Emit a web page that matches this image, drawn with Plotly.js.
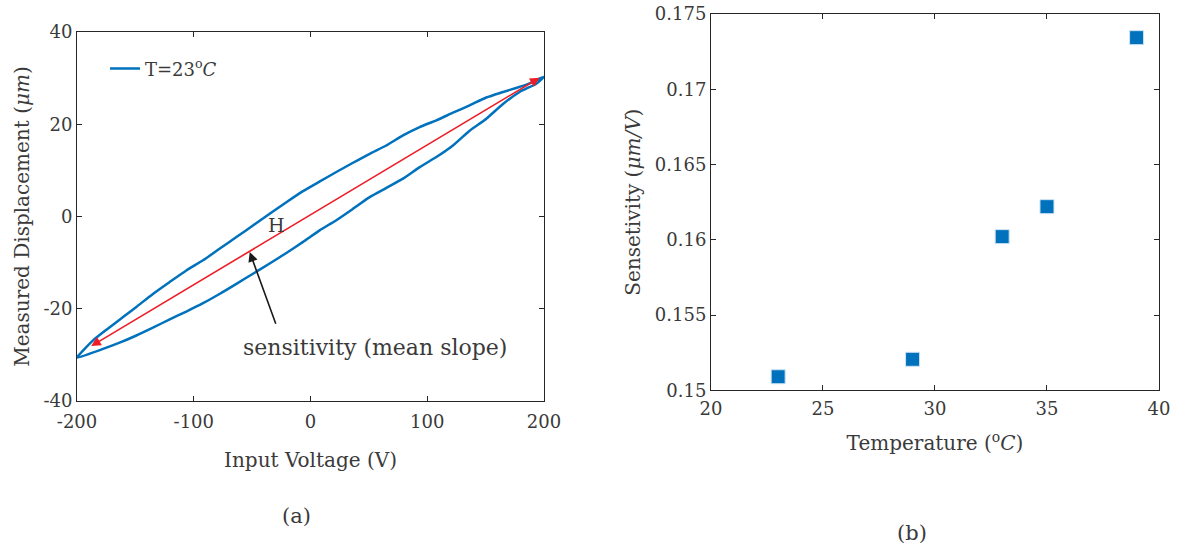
<!DOCTYPE html>
<html>
<head>
<meta charset="utf-8">
<script src="https://cdn.plot.ly/plotly-3.0.1.min.js"></script>
<style>html,body{margin:0;padding:0;background:#fff;}#chart{width:1180px;height:554px;}</style>
</head>
<body>
<div id="chart"></div>
<script>
// ---- Panel (a): hysteresis loop at T = 23 C ----
// upper branch (voltage decreasing 200 -> -200)
const upperVoltage = [200, 196, 185, 165, 150.6, 136.3, 122, 107.8, 93.5, 79.2, 64.9, 50.7, 36, 22.1, 8, -6.4, -20.7, -35, -49, -63.5, -78, -92.1, -106.4, -120.6, -135, -149.2, -160, -172, -186.3, -200];
const upperDisp    = [30.3, 29.9, 28.6, 27.0, 25.8, 24.1, 22.5, 20.85, 19.4, 17.6, 15.4, 13.6, 11.6, 9.65, 7.6, 5.5, 3.1, 0.6, -1.9, -4.45, -7.0, -9.5, -11.7, -14.2, -16.8, -19.6, -21.7, -24.0, -26.85, -30.5];
// lower branch (voltage increasing -200 -> 200)
const lowerVoltage = [-200, -177.7, -163, -149.2, -135, -120.6, -106.4, -92.1, -78, -63.5, -49.3, -35, -20.7, -6.4, 7.8, 22.1, 36, 50.7, 65, 79.2, 93.5, 107.8, 122, 136.3, 150.6, 164.9, 179.1, 193.4, 200];
const lowerDisp    = [-30.6, -28.7, -27.3, -25.8, -24.1, -22.3, -20.6, -18.8, -16.8, -14.6, -12.4, -10.2, -7.9, -5.5, -3.0, -0.8, 1.6, 4.2, 6.2, 8.2, 10.7, 12.9, 15.4, 18.6, 21.2, 24.4, 27.0, 28.8, 30.3];
const loopVoltage = upperVoltage.concat(lowerVoltage);
const loopDisp = upperDisp.concat(lowerDisp);

// mean slope arrow end points (data units)
const slopeStart = [-189.2, -28.3];
const slopeEnd = [196.3, 30.1];
const pointerHead = [-52.1, -7.7];
const pointerTail = [-29.3, -23.6];

// ---- Panel (b): sensitivity vs temperature ----
const temperature = [23, 29, 33, 35, 39];
const sensitivity = [0.1509, 0.15206, 0.16021, 0.1622, 0.17343];

const xTicksA = [-200, -100, 0, 100, 200];
const xTickTextA = ['-200', '-100', '0', '100', '200'];
const yTicksA = [-40, -20, 0, 20, 40];
const yTickTextA = ['-40', '-20', '0', '20', '40'];
const xTicksB = [20, 25, 30, 35, 40];
const xTickTextB = ['20', '25', '30', '35', '40'];
const yTicksB = [0.15, 0.155, 0.16, 0.165, 0.17, 0.175];
const yTickTextB = ['0.15', '0.155', '0.16', '0.165', '0.17', '0.175'];

const FONT = 'DejaVu Serif, serif';
const TXT = '#3a3a3a';

const axisCommon = {
  showline: true, linecolor: '#262626', linewidth: 1, mirror: 'ticks',
  ticks: 'inside', ticklen: 5, tickwidth: 1, tickcolor: '#262626',
  showgrid: false, zeroline: false,
  tickfont: {family: FONT, size: 18, color: TXT},
  automargin: false
};

const traces = [
  {x: loopVoltage, y: loopDisp, type: 'scatter', mode: 'lines', name: 'T=23<sup>o</sup><i>C</i>',
   line: {color: '#0072BD', width: 2.5, shape: 'spline', smoothing: 0.6}, xaxis: 'x', yaxis: 'y', showlegend: true},
  {x: temperature, y: sensitivity, type: 'scatter', mode: 'markers', name: 'sensitivity',
   marker: {symbol: 'square', size: 14, color: '#0072BD', line: {color: '#cfe3f3', width: 1}},
   xaxis: 'x2', yaxis: 'y2', showlegend: false}
];

const layout = {
  width: 1180, height: 554,
  margin: {l: 0, r: 0, t: 0, b: 0},
  paper_bgcolor: '#fff', plot_bgcolor: '#fff',
  font: {family: FONT, color: TXT},
  showlegend: true,
  legend: {x: 0.089, y: 0.909, xanchor: 'left', yanchor: 'top', bgcolor: 'rgba(0,0,0,0)',
           font: {family: FONT, size: 18, color: TXT}, itemwidth: 30, tracegroupgap: 0},
  xaxis: Object.assign({}, axisCommon, {domain: [0.0653, 0.4610], range: [-200, 200], tickvals: xTicksA, ticktext: xTickTextA,
    ticklabelstandoff: 4,
    title: {text: 'Input Voltage (V)', font: {family: FONT, size: 20, color: TXT}, standoff: 22}}),
  yaxis: Object.assign({}, axisCommon, {domain: [0.2762, 0.9422], range: [-40, 40], tickvals: yTicksA, ticktext: yTickTextA,
    title: {text: 'Measured Displacement (<i>μm</i>)', font: {family: FONT, size: 20, color: TXT}, standoff: 8}}),
  xaxis2: Object.assign({}, axisCommon, {domain: [0.6025, 0.9822], range: [20, 40], tickvals: xTicksB, ticktext: xTickTextB, anchor: 'y2',
    ticklabelstandoff: 2,
    title: {text: 'Temperature (<sup>o</sup><i>C</i>)', font: {family: FONT, size: 20, color: TXT}, standoff: 18}}),
  yaxis2: Object.assign({}, axisCommon, {domain: [0.2955, 0.9747], range: [0.15, 0.175], tickvals: yTicksB, ticktext: yTickTextB, anchor: 'x2',
    title: {text: 'Sensetivity (<i>μm/V</i>)', font: {family: FONT, size: 20, color: TXT}, standoff: 8}}),
  annotations: [
    {xref: 'x', yref: 'y', axref: 'x', ayref: 'y', x: slopeEnd[0], y: slopeEnd[1], ax: slopeStart[0], ay: slopeStart[1],
     text: '', showarrow: true, arrowside: 'end+start', arrowhead: 2, startarrowhead: 2, arrowsize: 1.2, startarrowsize: 1.2,
     arrowwidth: 1.6, arrowcolor: '#ee1c25'},
    {xref: 'x', yref: 'y', axref: 'x', ayref: 'y', x: pointerHead[0], y: pointerHead[1], ax: pointerTail[0], ay: pointerTail[1],
     text: '', showarrow: true, arrowhead: 2, arrowsize: 1.2, arrowwidth: 1.6, arrowcolor: '#1a1a1a'},
    {xref: 'x', yref: 'y', x: 55.2, y: -28.4, text: 'sensitivity (mean slope)', showarrow: false,
     font: {family: FONT, size: 22, color: TXT}},
    {xref: 'x', yref: 'y', x: -28.8, y: -1.9, text: 'H', showarrow: false,
     font: {family: FONT, size: 19, color: TXT}},
    {xref: 'paper', yref: 'paper', x: 296/1180, y: 1 - 516/554, xanchor: 'center', yanchor: 'middle', text: '(a)', showarrow: false,
     font: {family: FONT, size: 21, color: TXT}},
    {xref: 'paper', yref: 'paper', x: 912/1180, y: 1 - 533/554, xanchor: 'center', yanchor: 'middle', text: '(b)', showarrow: false,
     font: {family: FONT, size: 21, color: TXT}}
  ]
};

Plotly.newPlot('chart', traces, layout, {displayModeBar: false, staticPlot: true});
</script>
</body>
</html>
